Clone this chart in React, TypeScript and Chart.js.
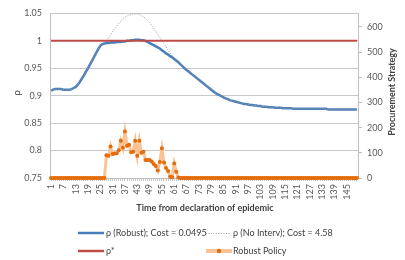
import React, { useEffect, useRef } from 'react';
import { Chart, registerables } from 'chart.js';

Chart.register(...registerables);

const days: string[] = Array.from({ length: 150 }, (_, i) => String(i + 1));

const rhoRobust: number[] = [
  0.909, 0.911, 0.912, 0.912, 0.912, 0.912, 0.911, 0.911, 0.911, 0.911,
  0.912, 0.914, 0.916, 0.920, 0.925, 0.931, 0.937, 0.944, 0.950, 0.957,
  0.964, 0.971, 0.978, 0.985, 0.991, 0.994, 0.995, 0.996, 0.996, 0.997,
  0.997, 0.997, 0.998, 0.998, 0.998, 0.999, 0.999, 1.000, 1.000, 1.001,
  1.001, 1.002, 1.002, 1.002, 1.001, 1.001, 1.000, 0.998, 0.996, 0.994,
  0.992, 0.990, 0.988, 0.986, 0.983, 0.980, 0.977, 0.975, 0.972, 0.970,
  0.967, 0.964, 0.961, 0.957, 0.954, 0.950, 0.947, 0.944, 0.941, 0.938,
  0.935, 0.932, 0.929, 0.926, 0.923, 0.920, 0.917, 0.914, 0.911, 0.908,
  0.905, 0.903, 0.901, 0.899, 0.897, 0.895, 0.894, 0.892, 0.891, 0.890,
  0.889, 0.888, 0.887, 0.886, 0.885, 0.885, 0.884, 0.883, 0.883, 0.882,
  0.882, 0.881, 0.881, 0.880, 0.880, 0.880, 0.879, 0.879, 0.879, 0.878,
  0.878, 0.878, 0.878, 0.877, 0.877, 0.877, 0.877, 0.877, 0.876, 0.876,
  0.876, 0.876, 0.876, 0.876, 0.876, 0.876, 0.876, 0.876, 0.876, 0.876,
  0.876, 0.876, 0.876, 0.876, 0.876, 0.875, 0.875, 0.875, 0.875, 0.875,
  0.875, 0.875, 0.875, 0.875, 0.875, 0.875, 0.875, 0.875, 0.875, 0.875,
];

const rhoNoInterv: number[] = [
  0.909, 0.911, 0.912, 0.912, 0.912, 0.912, 0.911, 0.911, 0.911, 0.911,
  0.912, 0.914, 0.916, 0.920, 0.925, 0.931, 0.937, 0.944, 0.950, 0.957,
  0.964, 0.971, 0.978, 0.985, 0.991, 0.994, 0.995, 0.999, 1.005, 1.011,
  1.017, 1.022, 1.027, 1.032, 1.036, 1.040, 1.043, 1.045, 1.047, 1.048,
  1.049, 1.049, 1.049, 1.048, 1.046, 1.044, 1.041, 1.037, 1.033, 1.028,
  1.023, 1.017, 1.012, 1.006, 1.001, 0.995, 0.989, 0.983, 0.978, 0.973,
  0.969, 0.966, 0.962, 0.958, 0.954, 0.950, 0.947, 0.944, 0.941, 0.938,
  0.935, 0.932, 0.929, 0.926, 0.923, 0.920, 0.917, 0.914, 0.911, 0.908,
  0.905, 0.903, 0.901, 0.899, 0.897, 0.895, 0.894, 0.892, 0.891, 0.890,
  0.889, 0.888, 0.887, 0.886, 0.885, 0.885, 0.884, 0.883, 0.883, 0.882,
  0.882, 0.881, 0.881, 0.880, 0.880, 0.880, 0.879, 0.879, 0.879, 0.878,
  0.878, 0.878, 0.878, 0.877, 0.877, 0.877, 0.877, 0.877, 0.876, 0.876,
  0.876, 0.876, 0.876, 0.876, 0.876, 0.876, 0.876, 0.876, 0.876, 0.876,
  0.876, 0.876, 0.876, 0.876, 0.876, 0.875, 0.875, 0.875, 0.875, 0.875,
  0.875, 0.875, 0.875, 0.875, 0.875, 0.875, 0.875, 0.875, 0.875, 0.875,
];

const rhoStar: number[] = [
  1, 1, 1, 1, 1, 1, 1, 1, 1, 1, 1, 1, 1, 1, 1, 1, 1, 1, 1, 1, 1, 1, 1, 1, 1,
  1, 1, 1, 1, 1, 1, 1, 1, 1, 1, 1, 1, 1, 1, 1, 1, 1, 1, 1, 1, 1, 1, 1, 1, 1,
  1, 1, 1, 1, 1, 1, 1, 1, 1, 1, 1, 1, 1, 1, 1, 1, 1, 1, 1, 1, 1, 1, 1, 1, 1,
  1, 1, 1, 1, 1, 1, 1, 1, 1, 1, 1, 1, 1, 1, 1, 1, 1, 1, 1, 1, 1, 1, 1, 1, 1,
  1, 1, 1, 1, 1, 1, 1, 1, 1, 1, 1, 1, 1, 1, 1, 1, 1, 1, 1, 1, 1, 1, 1, 1, 1,
  1, 1, 1, 1, 1, 1, 1, 1, 1, 1, 1, 1, 1, 1, 1, 1, 1, 1, 1, 1, 1, 1, 1, 1, 1,
];

const robustPolicy: number[] = [
  0, 0, 0, 0, 0, 0, 0, 0, 0, 0, 0, 0, 0, 0, 0, 0, 0, 0, 0, 0,
  0, 0, 0, 0, 0, 0, 0, 90, 88, 125, 95, 97, 98, 110, 148, 120, 185, 128, 132, 102,
  104, 148, 88, 148, 100, 104, 72, 72, 72, 66, 56, 48, 30, 64, 118, 62, 40, 28, 5, 3,
  58, 25, 2, 0, 0, 0, 0, 0, 0, 0, 0, 0, 0, 0, 0, 0, 0, 0, 0, 0,
  0, 0, 0, 0, 0, 0, 0, 0, 0, 0, 0, 0, 0, 0, 0, 0, 0, 0, 0, 0,
  0, 0, 0, 0, 0, 0, 0, 0, 0, 0, 0, 0, 0, 0, 0, 0, 0, 0, 0, 0,
  0, 0, 0, 0, 0, 0, 0, 0, 0, 0, 0, 0, 0, 0, 0, 0, 0, 0, 0, 0,
  0, 0, 0, 0, 0, 0, 0, 0, 0, 0,
];

const leftTicks: number[] = [0.75, 0.8, 0.85, 0.9, 0.95, 1, 1.05];
const rightTicks: number[] = [0, 100, 200, 300, 400, 500, 600];

const BLUE = '#4A7EBB';
const RED = '#BE4B48';
const GREY = '#9a9a9a';
const ORANGE = '#E46C0A';
const ORANGE_LIGHT = 'rgba(250,192,144,0.95)';
const FONT = 'Lato, "Open Sans", sans-serif';
const TEXT = '#404040';

const overlay = {
  id: 'overlay',
  afterDraw(chart: any) {
    const ctx = chart.ctx as CanvasRenderingContext2D;
    ctx.save();
    ctx.fillStyle = TEXT;
    ctx.textBaseline = 'middle';

    // left axis title
    ctx.save();
    ctx.translate(17, 93);
    ctx.rotate(-Math.PI / 2);
    ctx.textAlign = 'center';
    ctx.font = `10px ${FONT}`;
    ctx.fillText('ρ', 0, 0);
    ctx.restore();

    // right axis title
    ctx.save();
    ctx.translate(392, 92);
    ctx.rotate(-Math.PI / 2);
    ctx.textAlign = 'center';
    ctx.font = `bold 9px ${FONT}`;
    ctx.fillText('Procurement Strategy', 0, 0);
    ctx.restore();

    // x axis title
    ctx.textAlign = 'center';
    ctx.font = `bold 9px ${FONT}`;
    ctx.fillText('Time from declaration of epidemic', 205, 208);

    // legend
    ctx.textAlign = 'left';
    ctx.font = `9px ${FONT}`;
    const r1 = 233;
    const r2 = 251;
    const c1 = 78;
    const c2 = 206;
    const lw = 26;

    ctx.lineCap = 'butt';
    ctx.strokeStyle = BLUE;
    ctx.lineWidth = 2.5;
    ctx.beginPath(); ctx.moveTo(c1, r1); ctx.lineTo(c1 + lw, r1); ctx.stroke();
    ctx.fillText('ρ (Robust); Cost = 0.0495', c1 + lw + 2, r1);

    ctx.strokeStyle = GREY;
    ctx.lineWidth = 1;
    ctx.setLineDash([1, 1.5]);
    ctx.beginPath(); ctx.moveTo(c2, r1 + 0.5); ctx.lineTo(c2 + lw - 2, r1 + 0.5); ctx.stroke();
    ctx.setLineDash([]);
    ctx.fillText('ρ (No Interv); Cost = 4.58', c2 + lw + 1, r1);

    ctx.strokeStyle = RED;
    ctx.lineWidth = 2.5;
    ctx.beginPath(); ctx.moveTo(c1, r2); ctx.lineTo(c1 + lw, r2); ctx.stroke();
    ctx.fillText('ρ*', c1 + lw + 2, r2);

    ctx.strokeStyle = ORANGE_LIGHT;
    ctx.lineWidth = 4;
    ctx.beginPath(); ctx.moveTo(c2, r2); ctx.lineTo(c2 + lw, r2); ctx.stroke();
    ctx.fillStyle = ORANGE;
    ctx.beginPath(); ctx.arc(c2 + lw / 2, r2, 2.2, 0, Math.PI * 2); ctx.fill();
    ctx.fillStyle = TEXT;
    ctx.fillText('Robust Policy', c2 + lw + 1, r2);

    ctx.restore();
  },
};

export default function App() {
  const ref = useRef<HTMLCanvasElement | null>(null);

  useEffect(() => {
    if (!ref.current) return;
    const chart = new Chart(ref.current, {
      type: 'line',
      data: {
        labels: days,
        datasets: [
          {
            label: 'ρ (Robust); Cost = 0.0495',
            data: rhoRobust,
            yAxisID: 'y',
            borderColor: BLUE,
            borderWidth: 2.5,
            pointRadius: 0,
            tension: 0,
            order: 4,
          },
          {
            label: 'ρ (No Interv); Cost = 4.58',
            data: rhoNoInterv,
            yAxisID: 'y',
            borderColor: GREY,
            borderWidth: 1,
            borderDash: [1, 1.5],
            pointRadius: 0,
            tension: 0,
            order: 3,
          },
          {
            label: 'ρ*',
            data: rhoStar,
            yAxisID: 'y',
            borderColor: RED,
            borderWidth: 2,
            pointRadius: 0,
            order: 2,
          },
          {
            label: 'Robust Policy',
            data: robustPolicy,
            yAxisID: 'y1',
            borderColor: ORANGE_LIGHT,
            borderWidth: 3,
            pointRadius: 2,
            pointBorderWidth: 0,
            pointBackgroundColor: ORANGE,
            pointBorderColor: ORANGE,
            clip: false as any,
            order: 1,
          },
        ],
      },
      options: {
        animation: false,
        responsive: false,
        maintainAspectRatio: false,
        layout: { padding: { top: 6, left: 0, right: 0, bottom: 0 } },
        plugins: {
          legend: { display: false },
          tooltip: { enabled: false },
        },
        scales: {
          x: {
            type: 'category',
            offset: true,
            grid: {
              display: true,
              drawOnChartArea: false,
              drawTicks: true,
              tickLength: 3,
              color: '#c8c8c8',
            },
            border: { display: true, color: '#bfbfbf' },
            ticks: {
              autoSkip: false,
              maxRotation: 90,
              minRotation: 90,
              padding: 3,
              color: '#595959',
              font: { family: FONT, size: 9 },
              callback: (_v: any, i: number) => (i % 6 === 0 ? days[i] : ''),
            },
            afterFit: (s: any) => { s.height = 82; },
          },
          y: {
            position: 'left',
            min: 0.75,
            max: 1.05,
            afterBuildTicks: (s: any) => { s.ticks = leftTicks.map((v) => ({ value: v })); },
            grid: { color: '#c8c8c8', drawTicks: false },
            border: { display: true, color: '#bfbfbf' },
            ticks: {
              padding: 8,
              color: '#595959',
              font: { family: FONT, size: 9 },
              callback: (v: any) => String(parseFloat(Number(v).toFixed(2))),
            },
            afterFit: (s: any) => { s.width = 50; },
          },
          y1: {
            position: 'right',
            min: 0,
            max: 654,
            afterBuildTicks: (s: any) => { s.ticks = rightTicks.map((v) => ({ value: v })); },
            grid: { drawOnChartArea: false, drawTicks: true, tickLength: 4, color: '#bfbfbf' },
            border: { display: true, color: '#bfbfbf' },
            ticks: {
              padding: 5,
              color: '#595959',
              font: { family: FONT, size: 9 },
            },
            afterFit: (s: any) => { s.width = 47; },
          },
        },
      } as any,
      plugins: [overlay],
    });
    return () => chart.destroy();
  }, []);

  return (
    <div style={{ position: 'fixed', left: 0, top: 0, width: 405, height: 260, background: '#fff' }}>
      <canvas ref={ref} width={405} height={260} style={{ display: 'block', width: 405, height: 260 }} />
    </div>
  );
}
